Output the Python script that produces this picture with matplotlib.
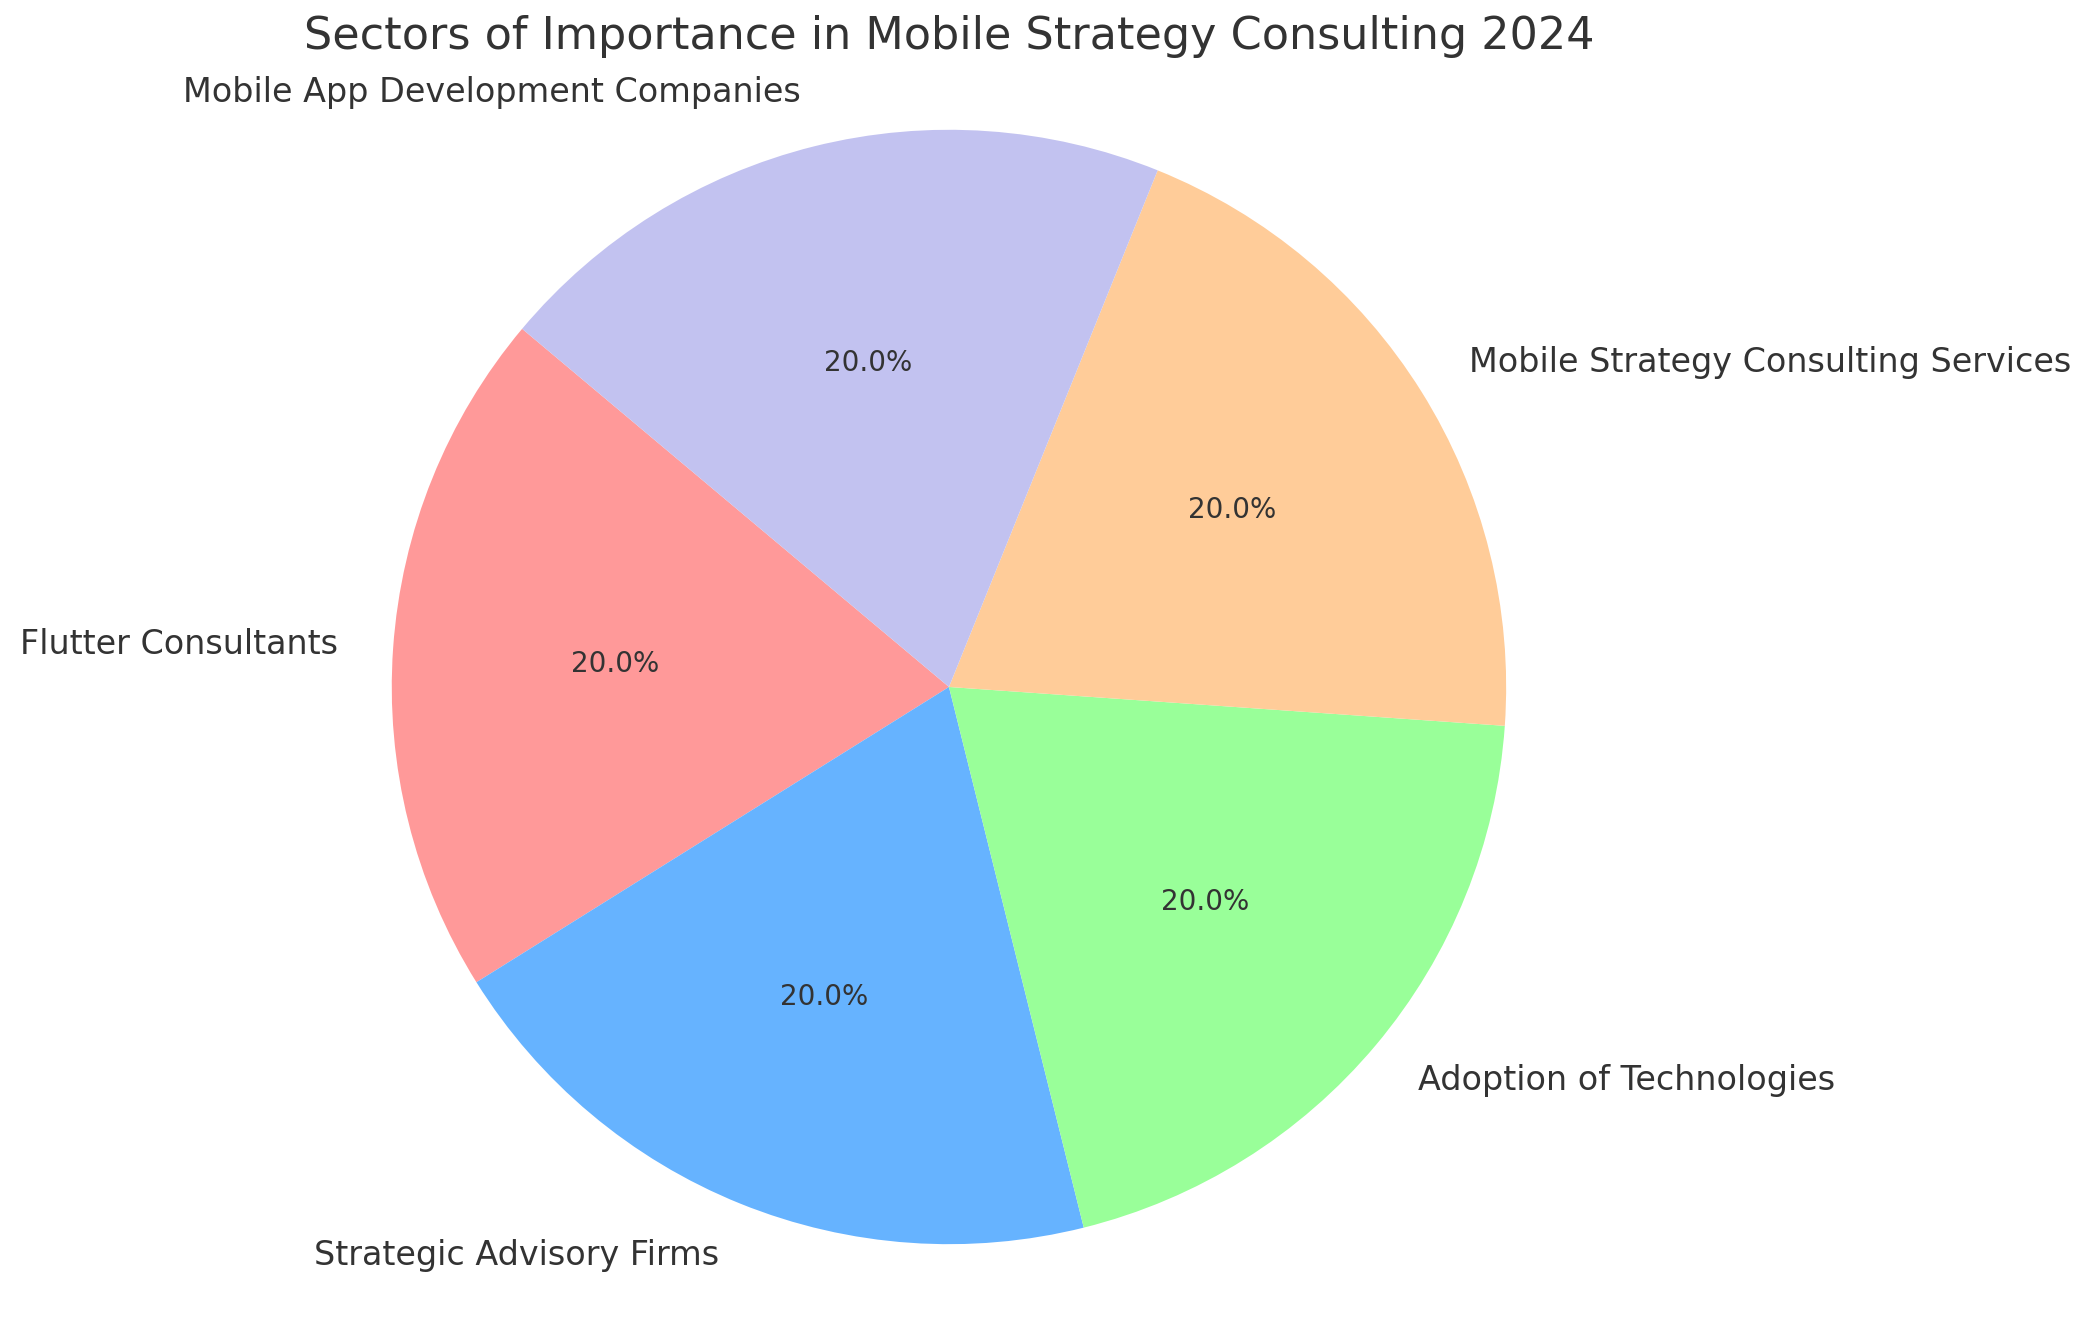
import matplotlib
matplotlib.use("Agg")
import matplotlib.pyplot as plt

categories = ["Flutter Consultants", "Strategic Advisory Firms", "Adoption of Technologies",
              "Mobile Strategy Consulting Services", "Mobile App Development Companies"]
values = [20, 20, 20, 20, 20]
colors = ["#ff9999", "#66b3ff", "#99ff99", "#ffcc99", "#c2c2f0"]
title = "Sectors of Importance in Mobile Strategy Consulting 2024"

plt.rcParams['text.color'] = '#333333'
fig = plt.figure(figsize=(10.45, 6.61), dpi=200)
ax = fig.add_axes([0.1208, -0.0465, 0.6665, 1.0537])
wedges, texts, autotexts = ax.pie(values, labels=categories, colors=colors, autopct='%1.1f%%',
                                  startangle=140, textprops={'color': '#333333'})
for t in texts:
    t.set_fontsize(12)
for t in autotexts:
    t.set_fontsize(10)
ax.set_xlim(-1.25, 1.25)
ax.set_ylim(-1.25, 1.25)
ax.set_aspect('equal')
fig.text(949/2090, 1 - 37/1322, title, ha='center', va='center', fontsize=16, color='#333333')
fig.savefig("out.png", dpi=200)
